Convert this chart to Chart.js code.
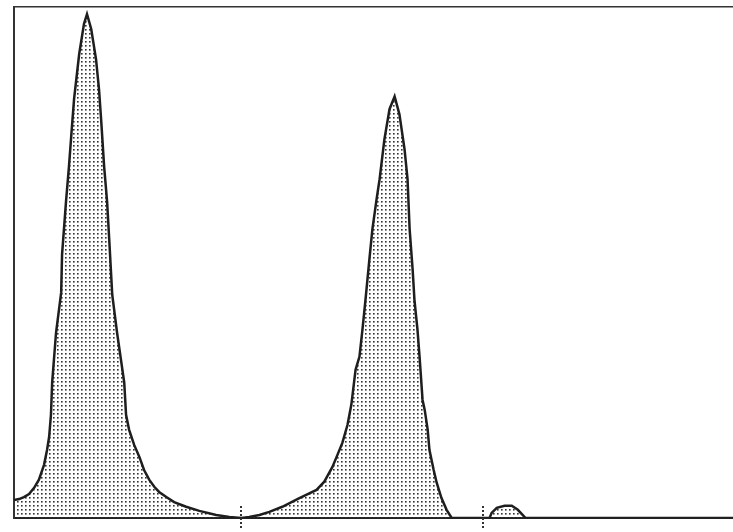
<!DOCTYPE html>
<html>
<head>
<meta charset="utf-8">
<script src="https://cdn.jsdelivr.net/npm/chart.js@4.4.1/dist/chart.umd.min.js"></script>
<style>
  body { margin: 0; background: #fff; overflow: hidden; }
</style>
</head>
<body>
<canvas id="histChart" width="750" height="532"></canvas>
<script>
// channel numbers and counts
var channels = [0, 1.7, 3.3, 5, 6.7, 8.3, 10, 11, 11.7, 12.3, 12.7, 14, 15.7, 16, 17.3, 18.3, 19.3, 20, 21.7, 23.3, 24.3,
    25.7, 27.3, 28.3, 29, 30, 31, 31.7, 32.7, 34.3, 36.7, 37.3, 38.3, 40, 41.7, 43.3, 45, 46.7, 48.3, 50.7, 53.3, 57.3,
    61.7, 67.3, 71.7, 75.7, 78.3, 81.7, 85, 89.3, 95, 100.7, 103.3, 106, 107.7, 109.3, 111, 112.3, 113.7, 115, 116, 117,
    118.3, 119.3, 120.7, 121.7, 123.3, 125, 126.7, 128.3, 130, 131, 131.7, 132.7, 133.3, 134.3, 135, 136, 136.7, 137.7,
    138.3, 139.7, 140.7, 142.3, 144, 145.7, 158.3, 159, 160.7, 163.3, 165.7, 167.7, 169.3, 170.3, 245];
var counts = [3.5, 3.7, 4.1, 4.7, 5.9, 7.5, 10.4, 13.3, 15.9, 20.2, 26.5, 36.3, 44.1, 51.6, 61.8, 68.8, 76.7, 82, 90.8, 96.7, 98.6,
    95.7, 89.8, 83.9, 78, 68.8, 61.8, 54.5, 43.7, 36.3, 26.5, 20.2, 17.3, 14.3, 12, 9.4, 7.5, 6.1, 5.1, 4.1, 3.1, 2.2,
    1.4, 0.6, 0.2, 0, 0.2, 0.6, 1.2, 2.2, 3.9, 5.5, 7.1, 10, 12.4, 14.7, 18.2, 22.2, 29, 31.6, 36.9, 42.7,
    50.6, 56.5, 62.4, 66.3, 74.1, 80, 82.5, 79, 72.2, 66.3, 56.5, 48.6, 42.7, 36.9, 31.6, 23.1, 21.2, 17.3,
    13.3, 9.4, 6.9, 3.9, 1.6, 0, 0, 1, 2, 2.4, 2.4, 1.6, 0.6, 0, 0];
var tickChannels = [75.7, 156];

// dotted halftone fill like the printout
function dotPattern() {
    var c = document.createElement('canvas');
    c.width = 4;
    c.height = 4;
    var g = c.getContext('2d');
    g.fillStyle = '#333';
    g.fillRect(1, 1, 1.6, 1.6);
    return g.createPattern(c, 'repeat');
}

var tickMarks = {
    id: 'tickMarks',
    afterDraw: function(chart) {
        var ctx = chart.ctx;
        var xs = chart.scales.x;
        var base = chart.chartArea.bottom;
        ctx.save();
        ctx.strokeStyle = '#333';
        ctx.lineWidth = 2;
        ctx.setLineDash([2, 2]);
        tickChannels.forEach(function(v) {
            var px = Math.round(xs.getPixelForValue(v));
            ctx.beginPath();
            ctx.moveTo(px, base - 12);
            ctx.lineTo(px, base + 12);
            ctx.stroke();
        });
        ctx.restore();
    }
};

var hist = document.getElementById('histChart').getContext('2d');
var hist_chart = new Chart(hist, {
    type: 'line',
    data: {
        datasets: [
            {
                label: 'counts',
                data: channels.map(function(c, i) { return { x: c, y: counts[i] }; }),
                borderColor: '#1e1e1e',
                borderWidth: 2.5,
                borderJoinStyle: 'miter',
                backgroundColor: dotPattern(),
                fill: 'origin',
                pointRadius: 0,
                lineTension: 0
            }
        ]
    },
    plugins: [tickMarks],
    options: {
        responsive: false,
        animation: false,
        layout: { padding: { left: 14, top: 7, right: 0, bottom: 2 } },
        plugins: {
            legend: { display: false },
            tooltip: { enabled: false }
        },
        scales: {
            x: {
                type: 'linear',
                min: 0,
                max: 245,
                afterBuildTicks: function(scale) {
                    scale.ticks = tickChannels.map(function(v) { return { value: v }; });
                },
                ticks: { display: false },
                grid: { drawOnChartArea: false, drawTicks: true, tickLength: 12, tickColor: 'rgba(0,0,0,0)' },
                border: { display: true, color: '#222', width: 2 }
            },
            xTop: {
                type: 'linear',
                position: 'top',
                min: 0,
                max: 245,
                ticks: { display: false },
                grid: { drawOnChartArea: false, drawTicks: false },
                border: { display: true, color: '#333', width: 1.5 }
            },
            y: {
                min: 0,
                max: 100,
                ticks: { display: false },
                grid: { drawOnChartArea: false, drawTicks: false },
                border: { display: true, color: '#333', width: 2, dash: [2, 1] }
            }
        }
    }
});
</script>
</body>
</html>
